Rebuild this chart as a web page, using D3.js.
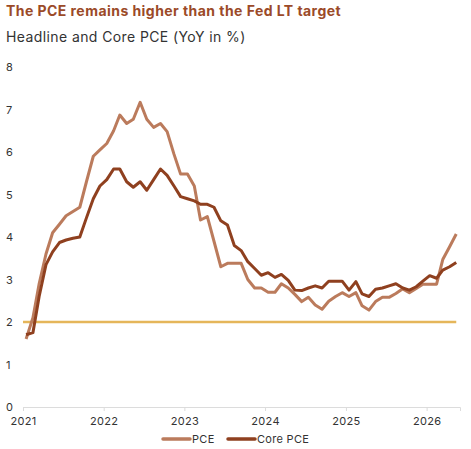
<!DOCTYPE html>
<html>
<head>
<meta charset="utf-8">
<script src="https://cdn.jsdelivr.net/npm/d3@7"></script>
<style>
  body { margin: 0; background: #fff; }
  text { font-family: "Inter", "DejaVu Sans", sans-serif; letter-spacing: 0.3px; }
</style>
</head>
<body>
<div id="chart"></div>
<script>
// Chart data (monthly YoY %, Jan 2021 onwards)
var startYear = 2021;
var pce = [1.6, 2.1, 2.9, 3.6, 4.1, 4.3, 4.5, 4.6, 4.7, 5.3, 5.9, 6.05,
  6.2, 6.5, 6.87, 6.67, 6.77, 7.17, 6.77, 6.58, 6.67, 6.48, 5.95, 5.48,
  5.48, 5.2, 4.4, 4.48, 3.9, 3.3, 3.38, 3.38, 3.38, 3.0, 2.8, 2.8,
  2.7, 2.7, 2.9, 2.8, 2.65, 2.48, 2.58, 2.4, 2.3, 2.49, 2.6, 2.69,
  2.6, 2.69, 2.38, 2.28, 2.48, 2.58, 2.58, 2.67, 2.78, 2.69, 2.79, 2.89,
  2.89, 2.89, 3.47, 3.77, 4.07];
var corePce = [1.7, 1.75, 2.6, 3.35, 3.65, 3.87, 3.93, 3.97, 4.0, 4.45, 4.9, 5.2,
  5.35, 5.6, 5.6, 5.3, 5.17, 5.3, 5.1, 5.35, 5.6, 5.45, 5.2, 4.95,
  4.9, 4.85, 4.77, 4.77, 4.7, 4.38, 4.28, 3.8, 3.68, 3.42, 3.26, 3.1,
  3.16, 3.05, 3.12, 2.98, 2.75, 2.74, 2.8, 2.85, 2.8, 2.96, 2.96, 2.96,
  2.75, 2.95, 2.66, 2.6, 2.77, 2.8, 2.85, 2.9, 2.8, 2.75, 2.83, 2.96,
  3.09, 3.03, 3.22, 3.3, 3.4];
var fedTarget = 2;
var yTicks = [0, 1, 2, 3, 4, 5, 6, 7, 8];
var xTickYears = [2021, 2022, 2023, 2024, 2025, 2026];
var seriesNames = ["PCE", "Core PCE"];

var svgWidth = 471;
var svgHeight = 449;
var margin = { top: 67, right: 11, bottom: 42, left: 23 };
var width = svgWidth - margin.left - margin.right;
var height = svgHeight - margin.top - margin.bottom;

var colors = { pce: "#bb7b5c", core: "#8f401f", target: "#e5b65a", title: "#9b4a28" };

var svg = d3.select("#chart")
  .append("svg")
  .attr("width", svgWidth)
  .attr("height", svgHeight);

// Titles
svg.append("text")
  .attr("x", 6)
  .attr("y", 16)
  .attr("font-size", 14)
  .attr("font-weight", "bold")
  .attr("fill", colors.title)
  .style("letter-spacing", "0.45px")
  .text("The PCE remains higher than the Fed LT target");

svg.append("text")
  .attr("x", 6)
  .attr("y", 42)
  .attr("font-size", 14)
  .attr("fill", "#333")
  .style("letter-spacing", "0.4px")
  .text("Headline and Core PCE (YoY in %)");

var chartGroup = svg.append("g")
  .attr("transform", `translate(${margin.left}, ${margin.top})`);

// Dates at mid-month
function monthDate(i) {
  return new Date(startYear, i, 15);
}

var xScale = d3.scaleTime()
  .domain([new Date(startYear, 0, 1), new Date(2026, 5, 1)])
  .range([0, width]);

var yScale = d3.scaleLinear()
  .domain([0, 8])
  .range([height, 0]);

// x axis
var bottomAxis = d3.axisBottom(xScale)
  .tickValues(xTickYears.map(y => new Date(y, 0, 1)))
  .tickFormat(d3.timeFormat("%Y"))
  .tickSize(4)
  .tickPadding(6);

var xAxisG = chartGroup.append("g")
  .attr("transform", `translate(0, ${height})`)
  .call(bottomAxis);
xAxisG.select(".domain").attr("stroke", "#dcdcdc");
xAxisG.selectAll(".tick line").attr("stroke", "#dcdcdc");
xAxisG.selectAll(".tick text")
  .attr("font-size", 11)
  .attr("fill", "#333");

// y axis labels only
var leftAxis = d3.axisLeft(yScale)
  .tickValues(yTicks)
  .tickSize(0)
  .tickPadding(0);

var yAxisG = chartGroup.append("g")
  .attr("transform", `translate(${6 - margin.left}, 0)`)
  .call(leftAxis);
yAxisG.select(".domain").remove();
yAxisG.selectAll(".tick text")
  .attr("text-anchor", "start")
  .attr("font-size", 11)
  .attr("fill", "#333");

// Fed target line
chartGroup.append("line")
  .attr("x1", xScale(new Date(startYear, 0, 1)))
  .attr("x2", xScale(monthDate(pce.length - 1)))
  .attr("y1", yScale(fedTarget))
  .attr("y2", yScale(fedTarget))
  .attr("stroke", colors.target)
  .attr("stroke-width", 2.5);

var line = d3.line()
  .x((d, i) => xScale(monthDate(i)))
  .y(d => yScale(d));

chartGroup.append("path")
  .datum(pce)
  .attr("d", line)
  .attr("fill", "none")
  .attr("stroke", colors.pce)
  .attr("stroke-width", 3)
  .attr("stroke-linejoin", "round");

chartGroup.append("path")
  .datum(corePce)
  .attr("d", line)
  .attr("fill", "none")
  .attr("stroke", colors.core)
  .attr("stroke-width", 3)
  .attr("stroke-linejoin", "round");

// Legend
var legendItems = [
  { name: seriesNames[0], color: colors.pce, x: 163 },
  { name: seriesNames[1], color: colors.core, x: 228 }
];

var legend = svg.append("g");
legendItems.forEach(function (item) {
  legend.append("line")
    .attr("x1", item.x)
    .attr("x2", item.x + 27)
    .attr("y1", 439)
    .attr("y2", 439)
    .attr("stroke", item.color)
    .attr("stroke-width", 3.5)
    .attr("stroke-linecap", "round");
  legend.append("text")
    .attr("x", item.x + 29)
    .attr("y", 443)
    .attr("font-size", 11)
    .attr("fill", "#333")
    .text(item.name);
});
</script>
</body>
</html>
